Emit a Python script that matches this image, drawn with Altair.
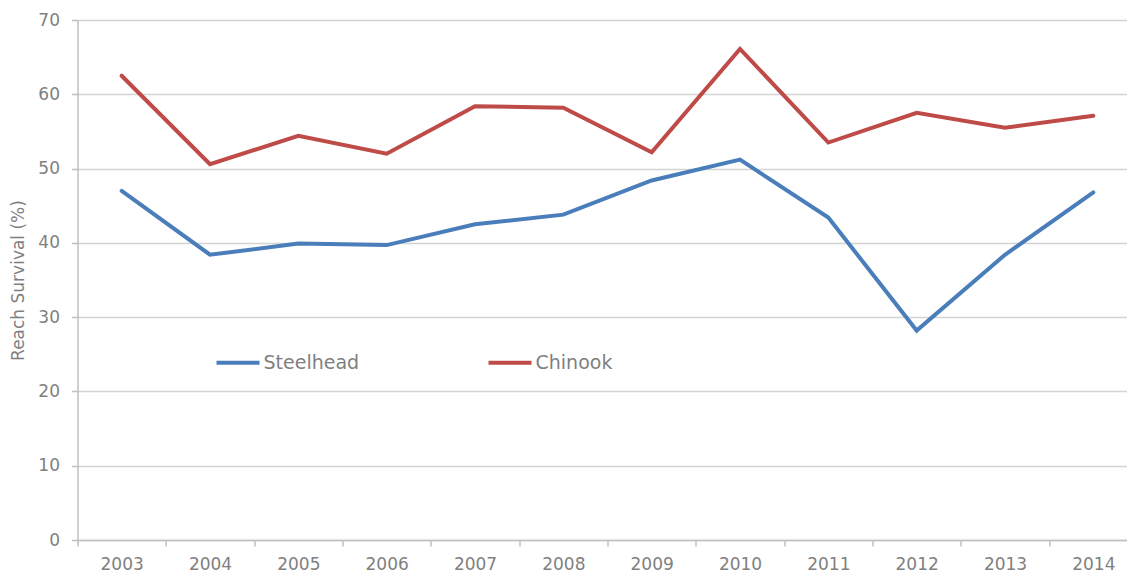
import altair as alt
import pandas as pd

years = ["2003", "2004", "2005", "2006", "2007", "2008", "2009", "2010", "2011", "2012", "2013", "2014"]
steelhead = [47.0, 38.4, 39.9, 39.7, 42.5, 43.8, 48.4, 51.2, 43.4, 28.2, 38.4, 46.8]
chinook = [62.5, 50.6, 54.4, 52.0, 58.4, 58.2, 52.2, 66.1, 53.5, 57.5, 55.5, 57.1]
series = ["Steelhead", "Chinook"]
colors = ["#4a7ebb", "#be4b48"]

rows = []
for name, vals in zip(series, [steelhead, chinook]):
    for y, v in zip(years, vals):
        rows.append({"Year": y, "Species": name, "Survival": v})
df = pd.DataFrame(rows)

FONT = "DejaVu Sans"
GREY = "#7f7f7f"

chart = alt.Chart(df).mark_line(strokeWidth=4, strokeCap="round", strokeJoin="miter").encode(
    x=alt.X("Year:O", bandPosition=0.5,
            scale=alt.Scale(type="band", domain=years, paddingInner=0, paddingOuter=0,
                            range=[0, 1060]),
            axis=alt.Axis(title=None, labelAngle=0, tickBand="extent", grid=False,
                          tickSize=6, labelPadding=10, domainColor="#bfbfbf", tickColor="#bfbfbf")),
    y=alt.Y("Survival:Q", scale=alt.Scale(domain=[0, 70], nice=False),
            axis=alt.Axis(title="Reach Survival (%)", values=[0, 10, 20, 30, 40, 50, 60, 70],
                          tickSize=6, labelPadding=12, titlePadding=10,
                          grid=True, gridColor="#d4d4d4", gridWidth=1.5,
                          domainColor="#bfbfbf", tickColor="#bfbfbf")),
    color=alt.Color("Species:N", scale=alt.Scale(domain=series, range=colors),
                    legend=alt.Legend(title=None, orient="none", legendX=137, legendY=319,
                                      direction="horizontal", symbolType="stroke",
                                      symbolSize=1849, symbolStrokeWidth=4,
                                      labelOffset=2, columnPadding=121, padding=0,
                                      labelFontSize=19, labelColor=GREY, labelFont=FONT)),
).properties(
    width=1049.5, height=520,
    autosize=alt.AutoSizeParams(type="none"),
    padding={"left": 69.5, "top": 12, "right": 0, "bottom": 38},
).configure_axis(
    labelFont=FONT, titleFont=FONT, labelFontSize=17, titleFontSize=17,
    labelColor=GREY, titleColor=GREY, titleFontWeight="normal", domainWidth=1.5, tickWidth=1.5,
).configure_view(stroke=None)

chart.save("out.html", embed_options={"renderer": "svg", "actions": False})
